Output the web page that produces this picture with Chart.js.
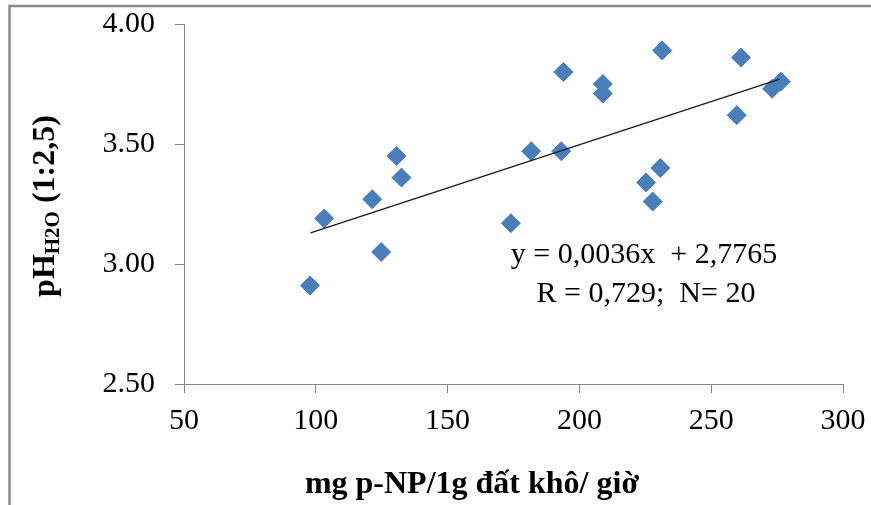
<!DOCTYPE html>
<html>
<head>
<meta charset="utf-8">
<script src="https://cdn.jsdelivr.net/npm/chart.js@4/dist/chart.umd.min.js"></script>
<style>
  html, body { margin: 0; padding: 0; background: #fff; }
  canvas { display: block; }
</style>
</head>
<body>
<canvas id="chart" width="871" height="505"></canvas>
<script>
// values
const xValues = [97.8, 103.2, 121.4, 124.8, 130.6, 132.5, 174.0, 181.7, 193.1, 193.9,
                 208.9, 208.9, 225.3, 227.8, 230.7, 231.4, 259.7, 261.3, 273.1, 276.4];
const yValues = [2.91, 3.19, 3.27, 3.05, 3.45, 3.36, 3.17, 3.47, 3.47, 3.80,
                 3.75, 3.71, 3.34, 3.26, 3.40, 3.89, 3.62, 3.86, 3.73, 3.76];

// trend line ends (y = 0,0036x + 2,7765)
const trendX = [98, 276];
const trendY = [3.1293, 3.7701];

const xTicks = [50, 100, 150, 200, 250, 300];
const yTicks = [2.5, 3.0, 3.5, 4.0];

const xTitle = 'mg p-NP/1g đất khô/ giờ';
const yTitleMain = 'pH';
const yTitleSub = 'H2O';
const yTitleRest = ' (1:2,5)';
const eqLines = ['y = 0,0036x  + 2,7765', 'R = 0,729;  N= 20'];

const serif = "'Liberation Serif', 'Times New Roman', serif";
const axisGrey = '#868686';
const blue = '#4a7ebb';

const toPoints = (xs, ys) => xs.map((x, i) => ({ x, y: ys[i] }));

// outer frame, titles and equation text
const extras = {
  id: 'extras',
  beforeDraw(chart) {
    const ctx = chart.ctx;
    ctx.save();
    ctx.strokeStyle = '#8a8a8a';
    ctx.lineWidth = 2.5;
    ctx.beginPath();
    ctx.moveTo(9.5, 520);
    ctx.lineTo(9.5, 6);
    ctx.lineTo(880, 6);
    ctx.stroke();
    ctx.restore();
  },
  afterDraw(chart) {
    const ctx = chart.ctx;
    ctx.save();
    ctx.fillStyle = '#000';

    // equation
    ctx.font = '30px ' + serif;
    ctx.textAlign = 'center';
    ctx.textBaseline = 'alphabetic';
    ctx.fillText(eqLines[0], 644, 263);
    ctx.fillText(eqLines[1], 646, 302);

    // x title
    ctx.font = 'bold 32px ' + serif;
    ctx.fillText(xTitle, 472, 493);

    // y title with subscript
    const mainFont = 'bold 32px ' + serif;
    const subFont = 'bold 21px ' + serif;
    ctx.font = mainFont;
    const w1 = ctx.measureText(yTitleMain).width;
    const w3 = ctx.measureText(yTitleRest).width;
    ctx.font = subFont;
    const w2 = ctx.measureText(yTitleSub).width;
    const total = w1 + w2 + w3;
    ctx.translate(54, 206 + total / 2);
    ctx.rotate(-Math.PI / 2);
    ctx.textAlign = 'left';
    ctx.font = mainFont;
    ctx.fillText(yTitleMain, 0, 0);
    ctx.font = subFont;
    ctx.fillText(yTitleSub, w1, 5);
    ctx.font = mainFont;
    ctx.fillText(yTitleRest, w1 + w2, 0);
    ctx.restore();
  }
};

new Chart(document.getElementById('chart'), {
  type: 'scatter',
  data: {
    datasets: [
      {
        type: 'line',
        data: toPoints(trendX, trendY),
        borderColor: '#1a1a1a',
        borderWidth: 1.3,
        pointRadius: 0,
        fill: false
      },
      {
        data: toPoints(xValues, yValues),
        pointStyle: 'rectRot',
        pointRadius: 9.5,
        pointHoverRadius: 9.5,
        backgroundColor: blue,
        borderColor: blue,
        borderWidth: 1
      }
    ]
  },
  plugins: [extras],
  options: {
    responsive: false,
    animation: false,
    devicePixelRatio: 1,
    layout: { padding: { top: 24, right: 28, left: 0, bottom: 0 } },
    plugins: {
      legend: { display: false },
      tooltip: { enabled: false }
    },
    scales: {
      x: {
        type: 'linear',
        min: 50,
        max: 300,
        afterBuildTicks: s => { s.ticks = xTicks.map(v => ({ value: v })); },
        afterFit: s => {
          s.height = 121;
          s.paddingLeft = 0; s.paddingRight = 0;
        },
        grid: { drawOnChartArea: false, drawTicks: true, tickLength: 9, color: axisGrey },
        border: { display: true, color: axisGrey, width: 1 },
        ticks: { color: '#000', font: { family: serif, size: 30 }, padding: 10, maxRotation: 0 }
      },
      y: {
        type: 'linear',
        min: 2.5,
        max: 4.0,
        afterBuildTicks: s => { s.ticks = yTicks.map(v => ({ value: v })); },
        afterFit: s => {
          s.width = 184;
          s.paddingTop = 0; s.paddingBottom = 0;
        },
        grid: { drawOnChartArea: false, drawTicks: true, tickLength: 9, color: axisGrey },
        border: { display: true, color: axisGrey, width: 1 },
        ticks: {
          color: '#000',
          font: { family: serif, size: 30 },
          padding: 20,
          callback: v => v.toFixed(2)
        }
      }
    }
  }
});
</script>
</body>
</html>
